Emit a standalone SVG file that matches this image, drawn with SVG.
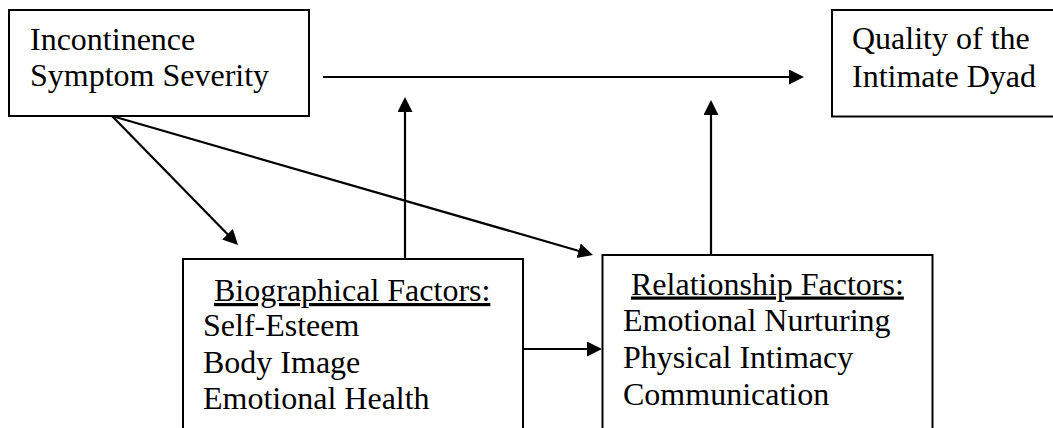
<svg xmlns="http://www.w3.org/2000/svg" width="1053" height="428" viewBox="0 0 1053 428">
  <style>
    .box { fill: #ffffff; stroke: #000000; stroke-width: 2; }
    .lbl { font-family: 'Liberation Serif', 'DejaVu Serif', serif; font-size: 32px; fill: #000000; }
    .ul { text-decoration: underline; }
    .edge { stroke: #000000; stroke-width: 2.2; fill: none; marker-end: url(#arr); }
  </style>
  <defs>
    <marker id="arr" markerUnits="userSpaceOnUse" markerWidth="16" markerHeight="16" refX="5" refY="7.5" orient="auto">
      <path d="M0,0 L15,7.5 L0,15 Z" fill="#000000"/>
    </marker>
  </defs>
  <rect width="1053" height="428" fill="#ffffff"/>

  <g id="node-incontinence">
    <rect class="box" x="9" y="10" width="300" height="106"/>
    <text class="lbl" font-family="Liberation Serif" x="30" y="49.5">Incontinence</text>
    <text class="lbl" font-family="Liberation Serif" x="30" y="85.5">Symptom Severity</text>
  </g>

  <g id="node-quality">
    <rect class="box" x="832" y="10" width="240" height="106.5"/>
    <text class="lbl" x="852" y="49">Quality of the</text>
    <text class="lbl" x="852" y="86.5">Intimate Dyad</text>
  </g>

  <g id="node-biographical">
    <rect class="box" x="183" y="259" width="340" height="200"/>
    <text class="lbl ul" x="214" y="301">Biographical Factors:</text>
    <text class="lbl" x="203" y="336">Self-Esteem</text>
    <text class="lbl" x="203" y="372.5">Body Image</text>
    <text class="lbl" x="203" y="409">Emotional Health</text>
  </g>

  <g id="node-relationship">
    <rect class="box" x="602.5" y="255" width="330" height="200"/>
    <text class="lbl ul" x="631" y="294.5">Relationship Factors:</text>
    <text class="lbl" x="623" y="331">Emotional Nurturing</text>
    <text class="lbl" x="623" y="368">Physical Intimacy</text>
    <text class="lbl" x="623" y="405">Communication</text>
  </g>

  <g id="connectors">
    <line class="edge" x1="323" y1="77" x2="794" y2="77"/>
    <line class="edge" x1="405" y1="259" x2="405" y2="107"/>
    <line class="edge" x1="711" y1="255" x2="711" y2="110"/>
    <line class="edge" x1="523" y1="349" x2="592" y2="349"/>
    <line class="edge" x1="112" y1="116" x2="231" y2="237.8"/>
    <line class="edge" x1="112" y1="116" x2="583.4" y2="252.2"/>
  </g>
</svg>
